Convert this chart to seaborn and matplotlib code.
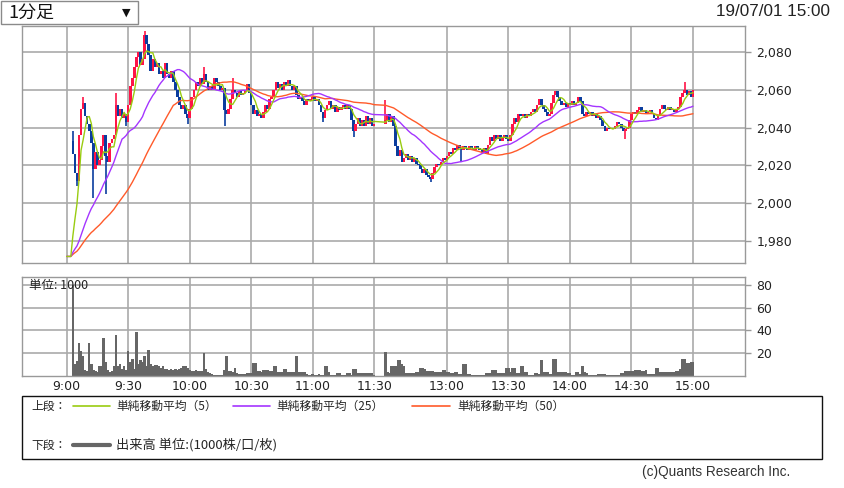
import numpy as np
import pandas as pd
import matplotlib
matplotlib.use("Agg")
import matplotlib.pyplot as plt
import seaborn as sns
from matplotlib.patches import Rectangle
from matplotlib.lines import Line2D
from matplotlib.ticker import FuncFormatter

# ---------------- data ----------------
prev_close = 1972          # previous session close (MA warm-up)
first_open = 2033          # opening price of first bar
am_first_minute = 3        # first traded minute after 9:00
pm_offset = 155.5          # axis position of 12:30 (lunch break compressed)

am_close = [
    2026, 2016, 2012, 2036, 2050, 2053, 2046, 2042, 2038, 2032,
    2018, 2027, 2020, 2023, 2030, 2036, 2025, 2022, 2032, 2034,
    2036, 2052, 2046, 2050, 2045, 2047, 2043, 2052, 2062, 2066,
    2072, 2077, 2080, 2073, 2076, 2089, 2084, 2078, 2070, 2076,
    2072, 2074, 2068, 2070, 2066, 2074, 2068, 2066, 2070, 2064,
    2060, 2056, 2052, 2050, 2052, 2047, 2045, 2050, 2056, 2060,
    2064, 2062, 2066, 2063, 2068, 2064, 2060, 2062, 2060, 2066,
    2064, 2062, 2060, 2061, 2049, 2047, 2050, 2055, 2060, 2058,
    2056, 2059, 2057, 2058, 2060, 2063, 2058, 2052, 2047, 2049,
    2046, 2047, 2045, 2048, 2052, 2050, 2055, 2056, 2060, 2064,
    2061, 2063, 2060, 2064, 2062, 2065, 2062, 2060, 2062, 2057,
    2055, 2056, 2054, 2052, 2055, 2054, 2055, 2056, 2054, 2055,
    2052, 2048, 2045, 2049, 2052, 2054, 2050, 2052, 2048, 2051,
    2049, 2051, 2052, 2050, 2052, 2050, 2044, 2038, 2042, 2045,
    2041, 2044, 2041, 2046, 2042, 2045, 2041, 2042,
]
pm_close = [
    2044, 2047, 2043, 2046, 2041, 2030, 2025, 2028, 2022, 2024,
    2026, 2023, 2025, 2022, 2024, 2021, 2020, 2018, 2016, 2018,
    2015, 2014, 2013, 2016, 2019, 2021, 2020, 2022, 2024, 2023,
    2025, 2027, 2026, 2029, 2028, 2031, 2029, 2028, 2030, 2029,
    2028, 2030, 2029, 2028, 2030, 2029, 2028, 2027, 2029, 2026,
    2031, 2035, 2033, 2036, 2034, 2036, 2033, 2035, 2036, 2034,
    2033, 2036, 2042, 2045, 2043, 2047, 2046, 2047, 2045, 2047,
    2046, 2048, 2050, 2048, 2052, 2055, 2052, 2050, 2048, 2046,
    2047, 2053, 2057, 2059, 2056, 2054, 2052, 2053, 2051, 2053,
    2052, 2054, 2052, 2053, 2056, 2054, 2047, 2046, 2048, 2047,
    2048, 2046, 2047, 2045, 2046, 2044, 2041, 2038, 2040, 2039,
    2040, 2039, 2041, 2043, 2042, 2040, 2038, 2039, 2040, 2044,
    2047, 2048, 2047, 2049, 2051, 2048, 2049, 2047, 2048, 2049,
    2047, 2045, 2044, 2046, 2050, 2052, 2050, 2049, 2051, 2049,
    2050, 2048, 2050, 2051, 2056, 2058, 2060, 2057, 2059, 2056,
    2060,
]
am_high = {3: 2038, 8: 2056, 24: 2058, 38: 2091, 67: 2072, 81: 2066}
am_low = {5: 2009, 13: 2003, 19: 2005, 29: 2041, 59: 2042, 77: 2041,
          125: 2043, 140: 2035}
pm_high = {0: 2054.5, 146: 2064}
pm_low = {22: 2011, 37: 2022, 117: 2034}

am_vol = [
    80, 10, 13, 29, 22, 17, 5, 4, 29, 10,
    5, 4, 3, 8, 8, 33, 12, 5, 3, 4,
    8, 36, 8, 10, 6, 8, 5, 22, 12, 15,
    6, 39, 10, 14, 12, 17, 8, 23, 10, 8,
    9, 9, 8, 7, 8, 6, 6, 5, 6, 5,
    6, 5, 6, 7, 8, 8, 7, 5, 4, 4,
    5, 4, 4, 4, 20, 6, 3, 2, 1, 0.5,
    0.5, 0.5, 0.5, 0.5, 5, 17, 4, 4, 3, 7,
    2, 1, 1, 1, 1, 2, 2, 2, 11, 11,
    4, 4, 3, 5, 5, 5, 4, 4, 8, 8,
    3, 3, 3, 6, 6, 3, 3, 3, 3, 17,
    3, 3, 3, 3, 1, 0.5, 0.5, 1, 0.5, 0.5,
    1, 0.5, 0.5, 8, 8, 3, 0.5, 0.5, 0.5, 2,
    2, 0.5, 0.5, 0.5, 2, 2, 0.5, 6, 6, 2,
    2, 2, 2, 2, 2, 2, 2, 0.5,
]
pm_vol = [
    21, 3, 2, 8, 8, 8, 14, 14, 10, 8,
    2, 2, 2, 2, 2, 3, 3, 7, 7, 6,
    4, 4, 4, 4, 3, 3, 3, 3, 5, 5,
    3, 3, 2, 2, 3, 3, 1, 1, 10, 10,
    1, 1, 0.5, 0.5, 0.5, 0.5, 0.5, 0.5, 0.5, 2,
    2, 2, 5, 5, 5, 2, 2, 2, 2, 7,
    7, 3, 7, 7, 2, 2, 8, 8, 3, 3,
    0.5, 0.5, 0.5, 2, 2, 1, 14, 3, 3, 3,
    1, 1, 15, 15, 3, 3, 3, 3, 3, 2,
    2, 0.5, 0.5, 3, 3, 1, 8, 3, 2, 0.5,
    0.5, 0.5, 0.5, 0.5, 1, 1, 1, 1, 0.5, 0.5,
    0.5, 0.5, 0.5, 0.5, 0.5, 2, 2, 4, 4, 4,
    4, 4, 5, 5, 5, 4, 4, 5, 1, 1,
    1, 1, 7, 7, 3, 3, 3, 3, 3, 3,
    3, 3, 4, 4, 6, 15, 15, 11, 11, 12,
    12,
]

tick_labels = ["9:00", "9:30", "10:00", "10:30", "11:00", "11:30",
               "13:00", "13:30", "14:00", "14:30", "15:00"]
tick_minutes = [0, 30, 60, 90, 120, 150, 30, 60, 90, 120, 150]  # am / pm session minute
price_ticks = [1980, 2000, 2020, 2040, 2060, 2080]
vol_ticks = [20, 40, 60, 80]

# ---------------- build frames ----------------
am_x = np.arange(am_first_minute, am_first_minute + len(am_close))
pm_x = pm_offset + np.arange(len(pm_close))
xs = np.concatenate([am_x, pm_x]).astype(float)
closes = np.array(am_close + pm_close, dtype=float)
opens = np.concatenate([[first_open], closes[:-1]])
highs = np.maximum(opens, closes)
lows = np.minimum(opens, closes)
for m, v in am_high.items():
    highs[m - am_first_minute] = v
for m, v in am_low.items():
    lows[m - am_first_minute] = v
for k, v in pm_high.items():
    highs[len(am_close) + k] = v
for k, v in pm_low.items():
    lows[len(am_close) + k] = v
vols = np.array(am_vol + pm_vol, dtype=float)

# moving averages (warm-up with previous close)
pre_x = np.arange(0, am_first_minute).astype(float)
warm = 50
series = pd.Series(np.concatenate([np.full(warm + len(pre_x), prev_close), closes]))
ma_x = np.concatenate([pre_x, xs])
ma = pd.DataFrame({"x": ma_x})
for n in (5, 25, 50):
    ma[f"ma{n}"] = series.rolling(n).mean().values[warm:]

# ---------------- style ----------------
sns.set_style("white")
plt.rcParams["font.family"] = ["DejaVu Sans", "Noto Sans CJK JP"]
JP = ["Noto Sans CJK JP", "DejaVu Sans"]

W, H = 845, 488
fig = plt.figure(figsize=(W / 100, H / 100), dpi=100)
fig.patch.set_facecolor("white")
def fx(x): return x / W
def fy(y): return 1 - y / H

L, R = 22, 745.3
ax_p = fig.add_axes([fx(L), fy(262.7), fx(R) - fx(L), fy(25.5) - fy(262.7)])
ax_v = fig.add_axes([fx(L), fy(375.5), fx(R) - fx(L), fy(277.3) - fy(375.5)])

xmin, xmax = (L - 66.7) / 2.05, (R - 66.7) / 2.05
grid_c = "#aaaaaa"
spine_c = "#999999"
tick_pos = [m if i < 6 else pm_offset + m for i, m in enumerate(tick_minutes)]

for ax in (ax_p, ax_v):
    ax.set_xlim(xmin, xmax)
    ax.set_xticks(tick_pos)
    for s in ax.spines.values():
        s.set_color(spine_c)
        s.set_linewidth(1.0)
    ax.yaxis.tick_right()
    ax.tick_params(axis="y", which="both", right=True, left=False, length=4,
                   width=1, color=spine_c, labelsize=9, pad=4, labelcolor="#222222")
    ax.tick_params(axis="x", length=0, labelsize=9, labelcolor="#222222", pad=3)
    ax.grid(True, color=grid_c, linewidth=1.2)
    ax.set_axisbelow(True)
    ax.set_facecolor("white")

# ---- price panel ----
up_c, dn_c = "#ff1447", "#0b3d9e"
colors = np.where(closes >= opens, up_c, dn_c)
ax_p.vlines(xs, lows, highs, colors=colors, linewidth=1.2, zorder=2)
body_lo = np.minimum(opens, closes)
body_h = np.maximum(np.abs(closes - opens), 0.7)
ax_p.bar(xs, body_h, bottom=body_lo, width=1.25, color=colors, linewidth=0, zorder=2)

ma_cols = {"ma5": "#99cc11", "ma25": "#a435ff", "ma50": "#ff5a2a"}
for key in ("ma50", "ma25", "ma5"):
    sns.lineplot(data=ma, x="x", y=key, ax=ax_p, color=ma_cols[key],
                 linewidth=1.0, estimator=None, sort=False, zorder=3)
ax_p.set_ylim(1968.7, 2093.8)
ax_p.set_yticks(price_ticks)
ax_p.yaxis.set_major_formatter(FuncFormatter(lambda v, p: f"{int(v):,}"))
ax_p.set_xticklabels([])
ax_p.set_xlabel("")
ax_p.set_ylabel("")

# ---- volume panel ----
ax_v.bar(xs, vols, width=1.2, color="#666666", linewidth=0, zorder=2)
ax_v.set_ylim(0, 87.2)
ax_v.set_yticks(vol_ticks)
ax_v.set_xticklabels(tick_labels)
ax_v.set_xlabel("")
ax_v.set_ylabel("")
fig.text(fx(29), fy(286), "単位: 1000", family=JP, fontsize=9, va="center",
         ha="left", color="#222222")

# ---- header ----
fig.patches.append(Rectangle((fx(1), fy(24)), fx(138) - fx(1), fy(1) - fy(24),
                             transform=fig.transFigure, facecolor="white",
                             edgecolor="#8a8a8a", linewidth=1.0, zorder=10))
fig.text(fx(8), fy(13), "1分足", family=JP, fontsize=13, va="center",
         ha="left", color="#111111", zorder=11)
fig.text(fx(126), fy(12.5), "▼", family=["DejaVu Sans"], fontsize=8,
         va="center", ha="center", color="#111111", zorder=11)
fig.text(fx(830), fy(12), "19/07/01 15:00", family=["Liberation Sans"],
         fontsize=12.3, va="center", ha="right", color="#222222")

# ---- legend box ----
fig.patches.append(Rectangle((fx(22), fy(459)), fx(822) - fx(22), fy(396) - fy(459),
                             transform=fig.transFigure, facecolor="white",
                             edgecolor="#111111", linewidth=1.0))
row1, row2 = 406, 445
fig.text(fx(31), fy(row1), "上段：", family=JP, fontsize=8.5, va="center")
fig.text(fx(31), fy(row2), "下段：", family=JP, fontsize=8.5, va="center")
leg = [(73, 110, 116, ma_cols["ma5"], "単純移動平均（5）"),
       (233, 270, 276, ma_cols["ma25"], "単純移動平均（25）"),
       (412, 450, 457, ma_cols["ma50"], "単純移動平均（50）")]
for x0, x1, tx, c, lab in leg:
    fig.lines.append(Line2D([fx(x0), fx(x1)], [fy(row1), fy(row1)],
                            transform=fig.transFigure, color=c, linewidth=1.2))
    fig.text(fx(tx), fy(row1), lab, family=JP, fontsize=8.5, va="center")
fig.lines.append(Line2D([fx(73), fx(110)], [fy(row2), fy(row2)],
                        transform=fig.transFigure, color="#666666", linewidth=3))
fig.text(fx(116), fy(row2), "出来高 単位:(1000株/口/枚)", family=JP, fontsize=9.5,
         va="center")

fig.text(fx(790), fy(472), "(c)Quants Research Inc.", family=["Liberation Sans"],
         fontsize=9.8, va="center", ha="right", color="#333333")

fig.savefig("out.png", dpi=100, facecolor="white")
